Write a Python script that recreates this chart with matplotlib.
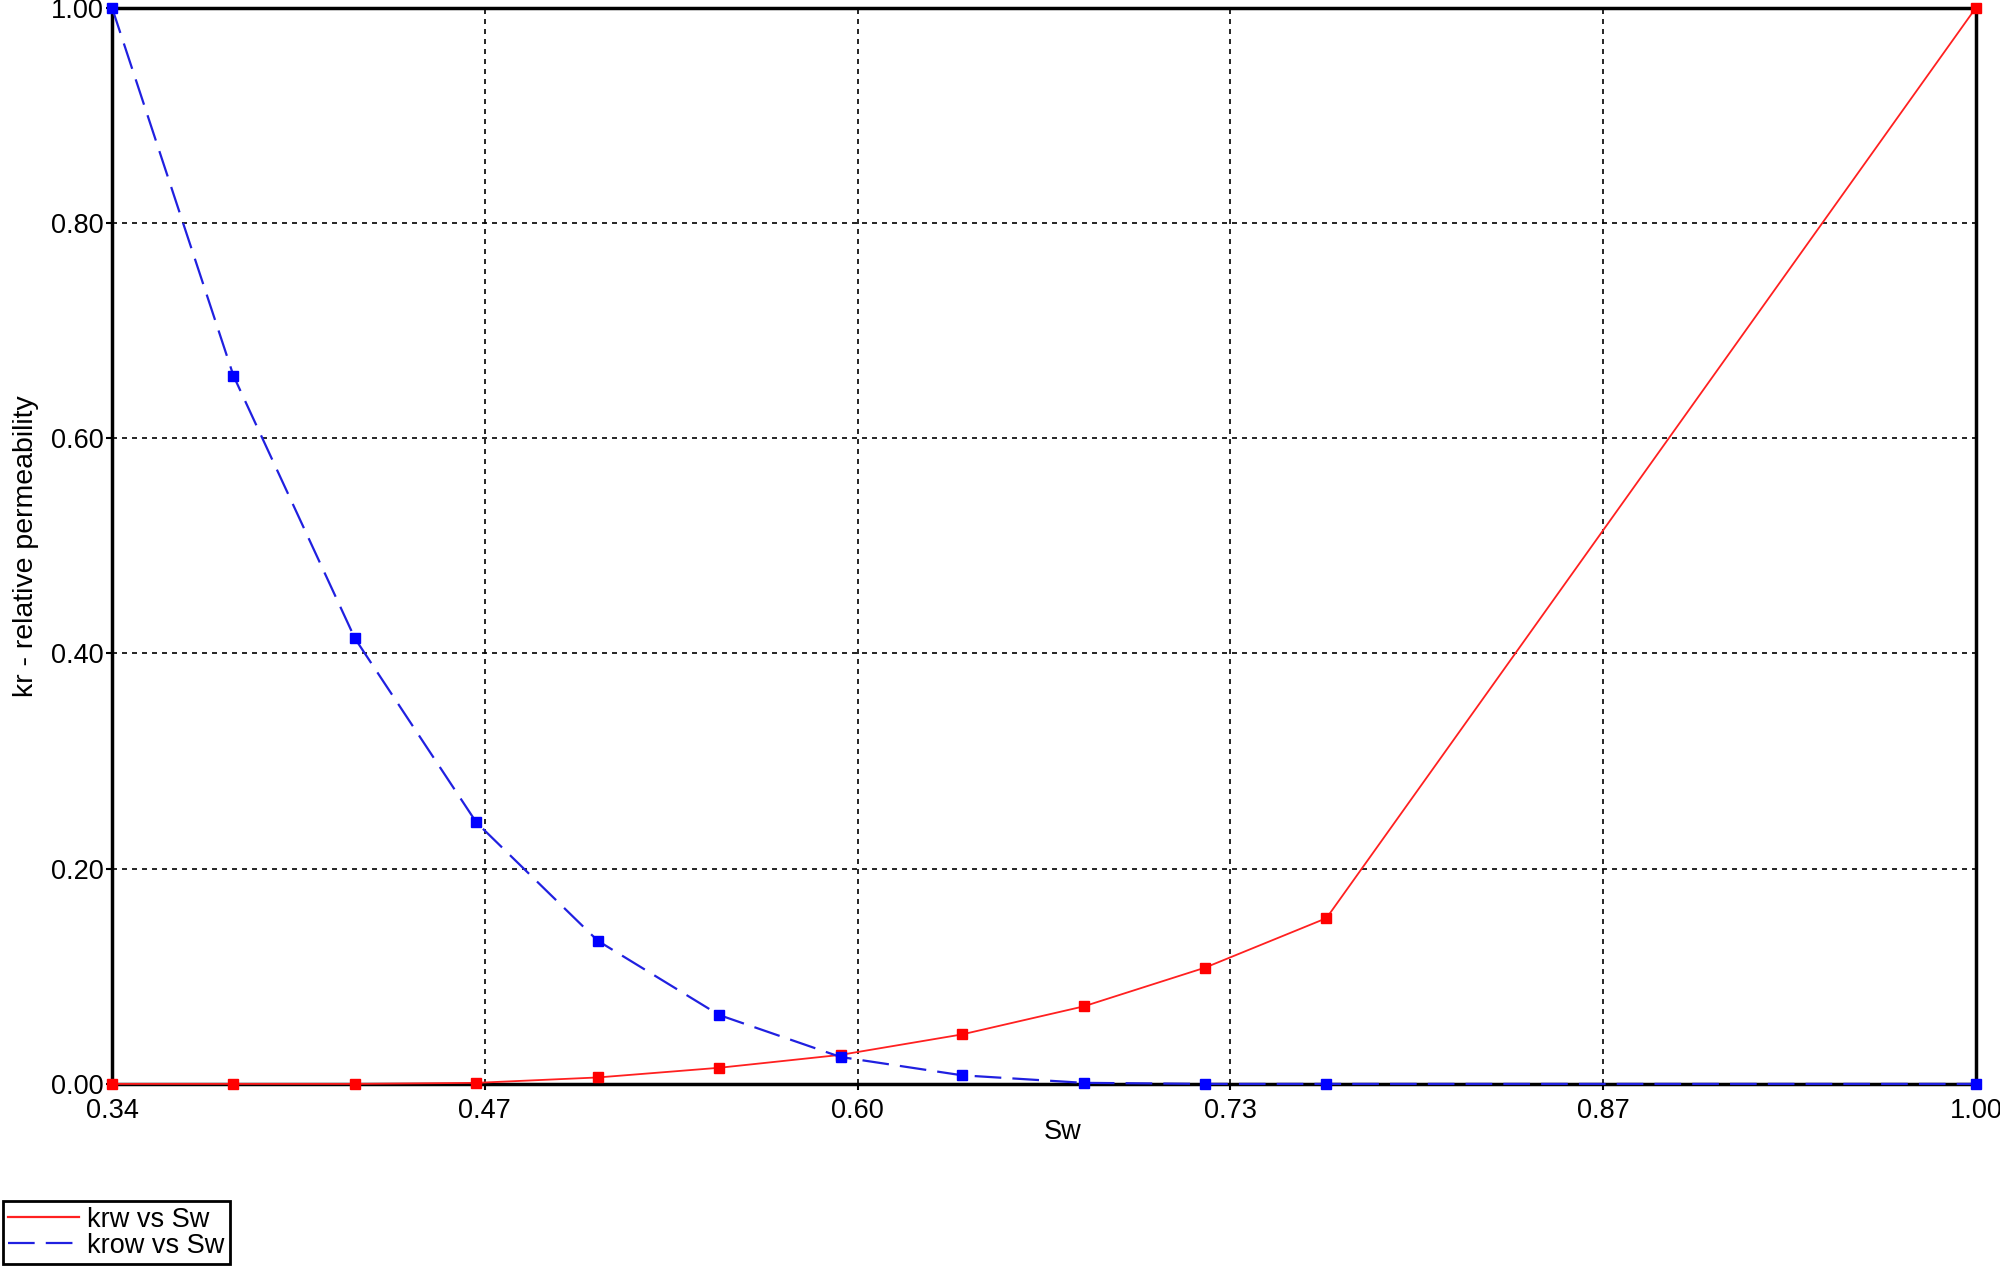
import matplotlib
matplotlib.use("Agg")
import matplotlib.pyplot as plt
from matplotlib.lines import Line2D
import numpy as np

plt.rcParams['font.family'] = ['Liberation Sans', 'DejaVu Sans']

sw = [0.34, 0.383, 0.426, 0.469, 0.512, 0.555, 0.598, 0.641, 0.684, 0.727, 0.770, 1.00]
krw = [0.0, 0.0, 0.0, 0.001, 0.006, 0.015, 0.027, 0.046, 0.072, 0.108, 0.154, 1.0]
krow = [1.0, 0.658, 0.414, 0.243, 0.133, 0.064, 0.025, 0.008, 0.001, 0.0, 0.0, 0.0]

xtick_vals = list(np.linspace(0.34, 1.00, 6))
xtick_labels = ["0.34", "0.47", "0.60", "0.73", "0.87", "1.00"]
ytick_vals = [0.0, 0.2, 0.4, 0.6, 0.8, 1.0]
ytick_labels = ["0.00", "0.20", "0.40", "0.60", "0.80", "1.00"]

FS = 19.5

fig = plt.figure(figsize=(20, 12.67), dpi=100)
ax = fig.add_axes([0.056, 0.1445, 0.932, 0.8495])

ax.plot(sw, krw, color='#ff2020', lw=1.3, marker='s', ms=7.5,
        mfc='#ff0000', mec='#ff0000', zorder=4, clip_on=False)
ax.plot(sw, krow, color='#2020e0', lw=1.6, dashes=(12, 5), marker='s', ms=7.5,
        mfc='#0000ff', mec='#0000ff', zorder=5, clip_on=False)

ax.set_xlim(0.34, 1.00)
ax.set_ylim(0.0, 1.0)
ax.set_xticks(xtick_vals)
ax.set_xticklabels(xtick_labels)
ax.set_yticks(ytick_vals)
ax.set_yticklabels(ytick_labels)
ax.tick_params(axis='both', labelsize=FS, length=4, width=1.5, direction='out')
ax.tick_params(axis='x', pad=6)
ax.tick_params(axis='y', pad=2)
ax.grid(True, color='black', linestyle=(0, (3, 3)), lw=1.2)
for s in ax.spines.values():
    s.set_linewidth(2.5)
    s.set_color('black')

ax.set_xlabel("Sw", fontsize=FS)
ax.xaxis.set_label_coords(0.51, -0.033)
ax.set_ylabel("kr - relative permeability", fontsize=20.5)
ax.yaxis.set_label_coords(-0.039, 0.5)

handles = [Line2D([], [], color='#ff2020', lw=1.6),
           Line2D([], [], color='#2020e0', lw=1.6, dashes=(12, 5))]
leg = fig.legend(handles, ["krw vs Sw", "krow vs Sw"], loc='lower left',
                 bbox_to_anchor=(0.0, 0.0), fontsize=FS, fancybox=False,
                 edgecolor='black', framealpha=1, handlelength=2.6,
                 borderpad=0.2, labelspacing=0.0, handletextpad=0.33,
                 borderaxespad=0.1)
leg.get_frame().set_linewidth(2.0)

fig.savefig("out.png", dpi=100)
